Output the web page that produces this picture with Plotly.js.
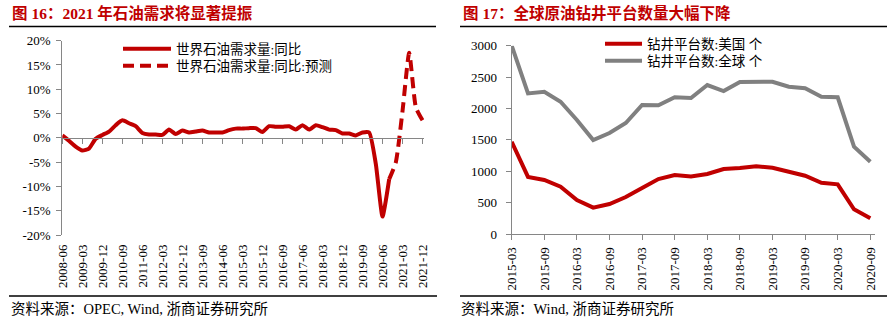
<!DOCTYPE html>
<html><head><meta charset="utf-8">
<script src="https://cdn.plot.ly/plotly-3.0.1.min.js"></script>
<style>html,body{margin:0;padding:0;background:#fff}#chart{width:890px;height:322px}</style>
</head><body><div id="chart"></div>
<script>
// ---------- Data: left chart (world oil demand YoY, %) ----------
const demandQuarters = ["2008-06","2008-09","2008-12","2009-03","2009-06","2009-09","2009-12","2010-03","2010-06","2010-09","2010-12","2011-03","2011-06","2011-09","2011-12","2012-03","2012-06","2012-09","2012-12","2013-03","2013-06","2013-09","2013-12","2014-03","2014-06","2014-09","2014-12","2015-03","2015-06","2015-09","2015-12","2016-03","2016-06","2016-09","2016-12","2017-03","2017-06","2017-09","2017-12","2018-03","2018-06","2018-09","2018-12","2019-03","2019-06","2019-09","2019-12","2020-03","2020-06","2020-09","2020-12","2021-03","2021-06","2021-09","2021-12"];
const demandActual = [0.5,-0.6,-1.8,-2.6,-2.2,-0.2,0.6,1.3,2.6,3.6,3.0,2.4,1.0,0.7,0.7,0.6,1.7,0.8,1.5,1.1,1.3,1.5,1.1,1.1,1.1,1.6,1.9,1.9,2.0,2.0,1.2,2.4,2.3,2.3,2.4,1.7,2.6,1.7,2.6,2.2,1.7,1.6,0.9,0.9,0.5,1.1,1.1,-5.4,-16.2,-8.5,null,null,null,null,null];
const demandForecast = [null,null,null,null,null,null,null,null,null,null,null,null,null,null,null,null,null,null,null,null,null,null,null,null,null,null,null,null,null,null,null,null,null,null,null,null,null,null,null,null,null,null,null,null,null,null,null,null,null,-8.5,-5.0,5.5,17.5,6.3,3.6];
const demandTickLabels = ["2008-06","2009-03","2009-12","2010-09","2011-06","2012-03","2012-12","2013-09","2014-06","2015-03","2015-12","2016-09","2017-06","2018-03","2018-12","2019-09","2020-06","2021-03","2021-12"];
const demandYTicks = [-20,-15,-10,-5,0,5,10,15,20];
const demandYLabels = ["-20%","-15%","-10%","-5%","0%","5%","10%","15%","20%"];
const demandNames = ["世界石油需求量:同比","世界石油需求量:同比:预测"];

// ---------- Data: right chart (oil rig counts) ----------
const rigQuarters = ["2015-03","2015-06","2015-09","2015-12","2016-03","2016-06","2016-09","2016-12","2017-03","2017-06","2017-09","2017-12","2018-03","2018-06","2018-09","2018-12","2019-03","2019-06","2019-09","2019-12","2020-03","2020-06","2020-09"];
const rigUS = [1470,910,860,753,541,420,478,589,733,876,940,915,956,1035,1050,1080,1056,992,929,817,792,393,250];
const rigGlobal = [3000,2240,2267,2108,1816,1497,1609,1768,2055,2050,2180,2166,2373,2278,2420,2426,2426,2347,2321,2188,2178,1391,1152];
const rigTickLabels = ["2015-03","2015-09","2016-03","2016-09","2017-03","2017-09","2018-03","2018-09","2019-03","2019-09","2020-03","2020-09"];
const rigYTicks = [0,500,1000,1500,2000,2500,3000];
const rigNames = ["钻井平台数:美国 个","钻井平台数:全球 个"];

// ---------- Texts ----------
const titleLeft = "图 16：2021 年石油需求将显著提振";
const titleRight = "图 17：全球原油钻井平台数量大幅下降";
const sourceLeft = "资料来源：OPEC, Wind, 浙商证券研究所";
const sourceRight = "资料来源：Wind, 浙商证券研究所";

// ---------- Styling ----------
const W = 890, H = 322;
const px = v => v / W;
const py = v => 1 - v / H;
const RED = "#C00000", GRAY = "#808080", AXIS = "#868686";
const SERIF = "'Liberation Serif', 'Noto Sans CJK SC', serif";
const tickFont = {family: SERIF, size: 13, color: "#000"};
const legFont = {family: SERIF, size: 13.5, color: "#000"};

const traces = [
  {x: demandQuarters, y: demandActual, type: "scatter", mode: "lines", name: demandNames[0],
   line: {color: RED, width: 4, shape: "spline", smoothing: 0.5}, xaxis: "x", yaxis: "y", legend: "legend", connectgaps: false},
  {x: demandQuarters, y: demandForecast, type: "scatter", mode: "lines", name: demandNames[1],
   line: {color: RED, width: 4, dash: "11px,6px", shape: "spline", smoothing: 0.5}, xaxis: "x", yaxis: "y", legend: "legend2", connectgaps: false},
  // invisible helper so the zero-crossing axis (x2) is drawn
  {x: demandQuarters, y: demandQuarters.map(() => 0), type: "scatter", mode: "lines", showlegend: false, hoverinfo: "skip",
   line: {width: 0, color: "rgba(0,0,0,0)"}, xaxis: "x2", yaxis: "y"},
  {x: rigQuarters, y: rigUS, type: "scatter", mode: "lines", name: rigNames[0],
   line: {color: RED, width: 4}, xaxis: "x3", yaxis: "y2", legend: "legend3"},
  {x: rigQuarters, y: rigGlobal, type: "scatter", mode: "lines", name: rigNames[1],
   line: {color: GRAY, width: 4}, xaxis: "x3", yaxis: "y2", legend: "legend4"}
];

const leftDomainX = [px(62.3), px(424.2)];
const leftDomainY = [py(235), py(40.7)];
const rightDomainX = [px(511.7), px(875.2)];
const rightDomainY = [py(234), py(45.7)];

const legendBase = (x, y, w) => ({x: x, y: y, xanchor: "left", yanchor: "middle", xref: "paper", yref: "paper",
  bgcolor: "rgba(0,0,0,0)", borderwidth: 0, font: legFont, itemwidth: w, orientation: "v", tracegroupgap: 0});

const layout = {
  width: W, height: H,
  margin: {l: 0, r: 0, t: 0, b: 0, pad: 0},
  paper_bgcolor: "#fff", plot_bgcolor: "rgba(0,0,0,0)",
  showlegend: true,
  xaxis: {domain: leftDomainX, anchor: "y", type: "category", categoryorder: "array", categoryarray: demandQuarters,
    range: [0, 54.25], tickmode: "array", tickvals: demandTickLabels, ticktext: demandTickLabels, tickangle: -90,
    ticks: "", showline: false, showgrid: false, zeroline: false, tickfont: tickFont, ticklabelstandoff: 6, fixedrange: true},
  xaxis2: {domain: leftDomainX, overlaying: "x", anchor: "free", position: 1 - 137.85 / H, type: "category",
    categoryorder: "array", categoryarray: demandQuarters, range: [0, 54.25], tickmode: "array", tickvals: demandTickLabels,
    ticks: "outside", ticklen: 5, tickcolor: AXIS, tickwidth: 1, showticklabels: false, showline: true, linecolor: AXIS, linewidth: 1,
    showgrid: false, zeroline: false},
  yaxis: {domain: leftDomainY, anchor: "x", range: [-20, 20], tickmode: "array", tickvals: demandYTicks, ticktext: demandYLabels,
    ticks: "outside", ticklen: 5, tickcolor: AXIS, showline: true, linecolor: AXIS, linewidth: 1, showgrid: false, zeroline: false,
    tickfont: tickFont, ticklabelstandoff: 3},
  xaxis3: {domain: rightDomainX, anchor: "y2", type: "category", categoryorder: "array", categoryarray: rigQuarters,
    range: [0, 22.3], tickmode: "array", tickvals: rigTickLabels, ticktext: rigTickLabels, tickangle: -90,
    ticks: "outside", ticklen: 5, tickcolor: AXIS, showline: true, linecolor: AXIS, linewidth: 1, showgrid: false, zeroline: false,
    tickfont: tickFont, ticklabelstandoff: 2},
  yaxis2: {domain: rightDomainY, anchor: "x3", range: [0, 3000], tickmode: "array", tickvals: rigYTicks,
    ticks: "outside", ticklen: 5, tickcolor: AXIS, showline: true, linecolor: AXIS, linewidth: 1, showgrid: false, zeroline: false,
    tickfont: tickFont, ticklabelstandoff: 6},
  legend: legendBase(px(118), py(49), 48),
  legend2: legendBase(px(118), py(66), 48),
  legend3: legendBase(px(600), py(44), 37),
  legend4: legendBase(px(600), py(61), 37),
  shapes: [
    {type: "line", xref: "paper", yref: "paper", x0: px(9), x1: px(436), y0: py(26.5), y1: py(26.5), line: {color: "#000", width: 1.3}},
    {type: "line", xref: "paper", yref: "paper", x0: px(460), x1: px(887), y0: py(26.5), y1: py(26.5), line: {color: "#000", width: 1.3}},
    {type: "line", xref: "paper", yref: "paper", x0: px(9), x1: px(437), y0: py(296), y1: py(296), line: {color: "#000", width: 1.3}},
    {type: "line", xref: "paper", yref: "paper", x0: px(460), x1: px(887), y0: py(296), y1: py(296), line: {color: "#000", width: 1.3}}
  ],
  annotations: [
    {text: "<b>" + titleLeft + "</b>", xref: "paper", yref: "paper", x: px(10), y: py(13.3), xanchor: "left", yanchor: "middle",
     showarrow: false, font: {family: SERIF, size: 15.5, color: RED}},
    {text: "<b>" + titleRight + "</b>", xref: "paper", yref: "paper", x: px(461), y: py(13.3), xanchor: "left", yanchor: "middle",
     showarrow: false, font: {family: SERIF, size: 15.5, color: RED}},
    {text: sourceLeft, xref: "paper", yref: "paper", x: px(9), y: py(309), xanchor: "left", yanchor: "middle",
     showarrow: false, font: {family: SERIF, size: 14.5, color: "#000"}},
    {text: sourceRight, xref: "paper", yref: "paper", x: px(459), y: py(309), xanchor: "left", yanchor: "middle",
     showarrow: false, font: {family: SERIF, size: 14.5, color: "#000"}}
  ]
};

Plotly.newPlot("chart", traces, layout, {staticPlot: true, displayModeBar: false});
</script></body></html>
